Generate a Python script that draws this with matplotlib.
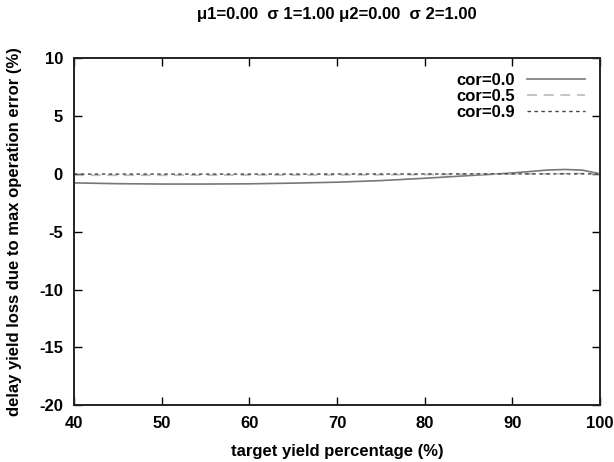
import numpy as np
import matplotlib
matplotlib.use("Agg")
import matplotlib.pyplot as plt

plt.rcParams["font.family"] = ["Liberation Sans", "DejaVu Sans"]
plt.rcParams["font.weight"] = "bold"
plt.rcParams["axes.unicode_minus"] = False

# -- data --------------------------------------------------------------------
target_pct = [40, 45, 50, 55, 60, 65, 70, 75, 80, 85, 88, 90, 92, 94, 96, 98, 100]
cor_00 = [-0.78, -0.85, -0.88, -0.88, -0.86, -0.8, -0.72, -0.58, -0.38, -0.15, -0.02, 0.08, 0.2, 0.33, 0.38, 0.32, 0.0]
cor_05 = [-0.12, -0.12, -0.12, -0.11, -0.1, -0.1, -0.09, -0.08, -0.06, -0.04, -0.03, -0.02, -0.01, 0.0, 0.02, 0.03, 0.0]
cor_09 = [-0.02, -0.02, -0.02, -0.02, -0.02, -0.02, -0.01, -0.01, -0.01, 0.0, 0.0, 0.0, 0.0, 0.0, 0.0, 0.0, 0.0]

fig = plt.figure(figsize=(6.14, 4.62), dpi=100)
ax = fig.add_axes([0.1205, 0.123, 0.857, 0.751])

ax.plot(target_pct, cor_00, color="#777777", lw=1.2, label="cor=0.0")
ax.plot(target_pct, cor_05, color="#bbbbbb", lw=1.2, dashes=(6, 4), label="cor=0.5")
ax.plot(target_pct, cor_09, color="#444444", lw=1.0, dashes=(2.5, 2.5), label="cor=0.9")

ax.set_xlim(40, 100)
ax.set_ylim(-20, 10)
ax.set_xticks(range(40, 101, 10))
ax.set_yticks(range(-20, 11, 5))
ax.tick_params(direction="in", top=True, right=True, length=6, width=1, labelsize=12)
ax.tick_params(axis="x", pad=8)
ax.tick_params(axis="y", pad=8)
for lbl in ax.get_xticklabels() + ax.get_yticklabels():
    lbl.set_fontweight("bold")
for s in ax.spines.values():
    s.set_linewidth(1.4)
    s.set_color("#222222")

ax.set_xlabel("target yield percentage (%)", fontsize=12, fontweight="bold", labelpad=9)
ax.set_ylabel("delay yield loss due to max operation error (%)", fontsize=12, fontweight="bold", labelpad=12)
ax.set_title("\u03bc1=0.00  \u03c3 1=1.00 \u03bc2=0.00  \u03c3 2=1.00",
             fontsize=12, fontweight="bold", pad=28)

leg = ax.legend(loc="upper right", frameon=False, fontsize=12, markerfirst=False,
                handlelength=3.5, handletextpad=0.7, labelspacing=0.05,
                borderaxespad=0.5)
for t in leg.get_texts():
    t.set_fontweight("bold")

fig.savefig("out.png", dpi=100)
